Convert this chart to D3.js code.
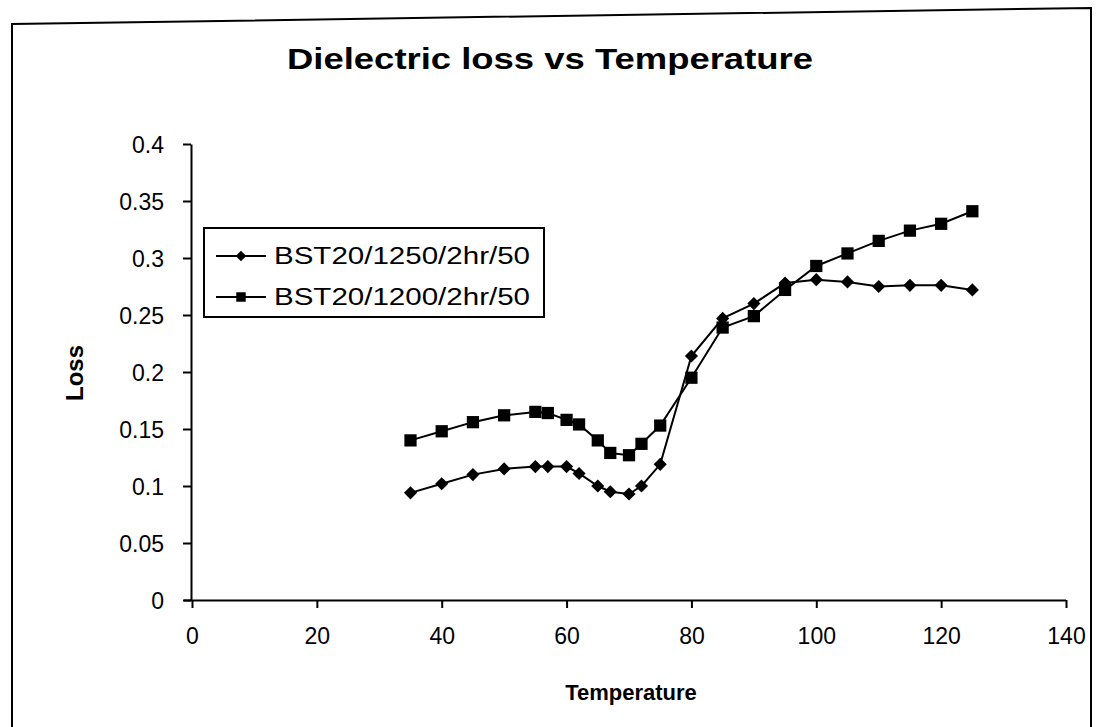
<!DOCTYPE html>
<html>
<head>
<meta charset="utf-8">
<script src="https://cdn.jsdelivr.net/npm/d3@7"></script>
<style>
  html, body { margin: 0; padding: 0; background: #fff; }
  svg { display: block; font-family: "Liberation Sans", Arial, sans-serif; }
</style>
</head>
<body>
<svg id="chart" width="1099" height="727"></svg>
<script>
// Temperature (°C) at which dielectric loss was measured
const temperature = [35, 40, 45, 50, 55, 57, 60, 62, 65, 67, 70, 72, 75, 80, 85, 90, 95, 100, 105, 110, 115, 120, 125];

// Loss for the sample sintered at 1250 °C
const loss1250 = [0.094, 0.102, 0.110, 0.115, 0.117, 0.117, 0.117, 0.111, 0.100, 0.095, 0.093, 0.100, 0.119,
                  0.214, 0.247, 0.260, 0.278, 0.281, 0.279, 0.275, 0.276, 0.276, 0.272];

// Loss for the sample sintered at 1200 °C
const loss1200 = [0.140, 0.148, 0.156, 0.162, 0.165, 0.164, 0.158, 0.154, 0.140, 0.129, 0.127, 0.137, 0.153,
                  0.195, 0.239, 0.249, 0.272, 0.293, 0.304, 0.315, 0.324, 0.330, 0.341];

const seriesNames = ["BST20/1250/2hr/50", "BST20/1200/2hr/50"];
const xTicks = [0, 20, 40, 60, 80, 100, 120, 140];
const yTicks = [0, 0.05, 0.1, 0.15, 0.2, 0.25, 0.3, 0.35, 0.4];
const yTickLabels = ["0", "0.05", "0.1", "0.15", "0.2", "0.25", "0.3", "0.35", "0.4"];

const svg = d3.select("#chart");

// outer frame
svg.append("path")
  .attr("d", "M12,740 L12,24 L1091,8 L1091,740")
  .attr("fill", "none").attr("stroke", "#000").attr("stroke-width", 2);

const x = d3.scaleLinear().domain([0, 140]).range([192, 1066]);
const y = d3.scaleLinear().domain([0, 0.4]).range([600, 144]);

// title
svg.append("text")
  .attr("x", 550).attr("y", 69)
  .attr("text-anchor", "middle")
  .attr("font-size", 30).attr("font-weight", "bold")
  .attr("textLength", 526).attr("lengthAdjust", "spacingAndGlyphs")
  .text("Dielectric loss vs Temperature");

// axes
const xAxis = d3.axisBottom(x).tickValues(xTicks).tickSize(8).tickSizeOuter(0).tickFormat(d3.format("d"));
const gx = svg.append("g").attr("transform", `translate(0,${y(0)})`).call(xAxis);
gx.select(".domain").attr("d", `M184,0.5H${x(140)}`);

const yAxis = d3.axisLeft(y).tickValues(yTicks).tickSize(8).tickSizeOuter(0)
  .tickFormat((d, i) => yTickLabels[i]);
const gy = svg.append("g").attr("transform", `translate(${x(0) - 1},0)`).call(yAxis);

[gx, gy].forEach(g => {
  g.selectAll("path, line").attr("stroke", "#000").attr("stroke-width", 2);
  g.selectAll("text").attr("font-size", 23).attr("fill", "#000")
    .attr("font-family", "Liberation Sans, Arial, sans-serif");
});
gx.selectAll("text").attr("dy", "1.45em");
gy.selectAll("text").attr("x", -27).attr("dy", "0.36em");

// axis titles
svg.append("text")
  .attr("x", 631).attr("y", 700)
  .attr("text-anchor", "middle")
  .attr("font-size", 22).attr("font-weight", "bold")
  .text("Temperature");

svg.append("text")
  .attr("transform", "translate(83,373) rotate(-90)")
  .attr("text-anchor", "middle")
  .attr("font-size", 24).attr("font-weight", "bold")
  .text("Loss");

// series
const line = d3.line().x(d => x(d[0])).y(d => y(d[1]));
const s1 = temperature.map((t, i) => [t, loss1250[i]]);
const s2 = temperature.map((t, i) => [t, loss1200[i]]);

const diamond = d3.symbol().type(d3.symbolDiamond2).size(110);
const square = d3.symbol().type(d3.symbolSquare).size(150);

svg.append("path").datum(s1).attr("d", line)
  .attr("fill", "none").attr("stroke", "#000").attr("stroke-width", 2);
svg.append("path").datum(s2).attr("d", line)
  .attr("fill", "none").attr("stroke", "#000").attr("stroke-width", 2);

svg.append("g").selectAll("path").data(s1).join("path")
  .attr("transform", d => `translate(${x(d[0])},${y(d[1])})`)
  .attr("d", diamond).attr("fill", "#000");
svg.append("g").selectAll("path").data(s2).join("path")
  .attr("transform", d => `translate(${x(d[0])},${y(d[1])})`)
  .attr("d", square).attr("fill", "#000");

// legend
const lg = svg.append("g");
lg.append("rect").attr("x", 204).attr("y", 228).attr("width", 340).attr("height", 89)
  .attr("fill", "#fff").attr("stroke", "#000").attr("stroke-width", 2);
const legendRows = [
  { name: seriesNames[0], sym: d3.symbol().type(d3.symbolDiamond2).size(70), cy: 256 },
  { name: seriesNames[1], sym: d3.symbol().type(d3.symbolSquare).size(90), cy: 297 }
];
legendRows.forEach(r => {
  lg.append("line").attr("x1", 216).attr("x2", 266).attr("y1", r.cy).attr("y2", r.cy)
    .attr("stroke", "#000").attr("stroke-width", 2);
  lg.append("path").attr("transform", `translate(241,${r.cy})`).attr("d", r.sym).attr("fill", "#000");
  lg.append("text").attr("x", 274).attr("y", r.cy).attr("dy", "0.36em")
    .attr("font-size", 23)
    .attr("textLength", 256).attr("lengthAdjust", "spacingAndGlyphs")
    .text(r.name);
});
</script>
</body>
</html>
